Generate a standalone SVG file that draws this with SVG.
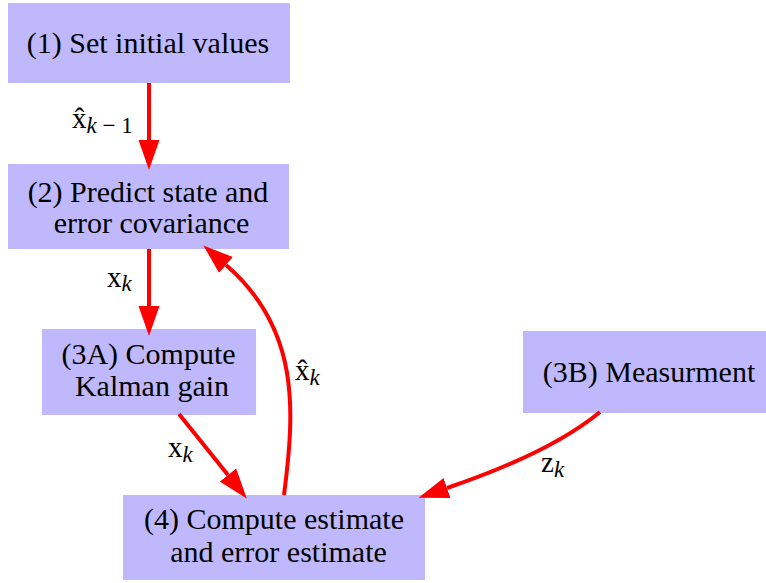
<svg xmlns="http://www.w3.org/2000/svg" width="766" height="583" viewBox="0 0 766 583">
  <style>
    .box { fill: #c0b8fd; }
    .lbl { font-family: "Liberation Serif", "Times New Roman", serif; font-size: 30px; fill: #000; text-anchor: middle; }
    .edge { fill: none; stroke: #ff0000; stroke-width: 4; marker-end: url(#head); }
    .m { font-family: "Liberation Serif", "Times New Roman", serif; font-size: 29px; fill: #000; }
    .sub { font-size: 23px; }
    .it { font-style: italic; }
  </style>
  <defs>
    <marker id="head" markerUnits="userSpaceOnUse" viewBox="0 -11 30 22" refX="0" refY="0" markerWidth="30" markerHeight="22" orient="auto">
      <path d="M0,-10.5 L30,0 L0,10.5 Z" fill="#ff0000"/>
    </marker>
  </defs>

  <g id="n1">
    <rect class="box" x="8" y="3" width="282" height="80"/>
    <text class="lbl" x="148" y="53">(1) Set initial values</text>
  </g>
  <g id="n2">
    <rect class="box" x="8" y="164" width="281" height="85"/>
    <text class="lbl" x="148" y="202">(2) Predict state and</text>
    <text class="lbl" x="151.5" y="233">error covariance</text>
  </g>
  <g id="n3a">
    <rect class="box" x="42" y="329" width="214" height="86"/>
    <text class="lbl" x="148.5" y="364">(3A) Compute</text>
    <text class="lbl" x="152" y="396">Kalman gain</text>
  </g>
  <g id="n3b">
    <rect class="box" x="523" y="331" width="243" height="82"/>
    <text class="lbl" x="649" y="382">(3B) Measurment</text>
  </g>
  <g id="n4">
    <rect class="box" x="123" y="495" width="302" height="85"/>
    <text class="lbl" x="274" y="529">(4) Compute estimate</text>
    <text class="lbl" x="278.5" y="562">and error estimate</text>
  </g>

  <g id="edges">
    <path class="edge" d="M149,83 L149,140"/>
    <path class="edge" d="M149,249 L149,306"/>
    <path class="edge" d="M179,414 L228,475"/>
    <path class="edge" d="M284,495 C295,410 300,329 226,265"/>
    <path class="edge" d="M600,412 C560,445 500,470 447,488"/>

    <!-- edge labels -->
    <text class="m" x="72" y="128">x̂<tspan class="sub" dy="5"><tspan class="it">k</tspan> − 1</tspan></text>
    <text class="m" x="107" y="287">x<tspan class="sub it" dy="4">k</tspan></text>
    <text class="m" x="168" y="457">x<tspan class="sub it" dy="5">k</tspan></text>
    <text class="m" x="295" y="380">x̂<tspan class="sub it" dy="5">k</tspan></text>
    <text class="m" x="541" y="472">z<tspan class="sub it" dy="5">k</tspan></text>
  </g>
</svg>
